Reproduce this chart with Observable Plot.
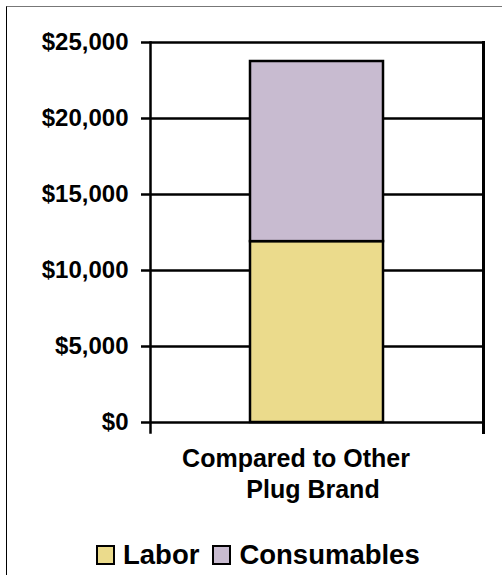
<!DOCTYPE html>
<html>
<head>
<meta charset="utf-8">
<script src="https://cdn.jsdelivr.net/npm/d3@7"></script>
<script src="https://cdn.jsdelivr.net/npm/@observablehq/plot@0.6"></script>
<style>
  html, body { margin: 0; padding: 0; background: #fff; }
  #wrap { position: relative; width: 502px; height: 575px; overflow: hidden;
          font-family: "Liberation Sans", Arial, Helvetica, sans-serif; }
  #border { position: absolute; left: 6px; top: 6px; width: 600px; height: 600px;
            border-top: 1px solid #777; border-left: 1px solid #000; pointer-events: none; }
  #chart { position: absolute; left: 0; top: 0; }
  #legend { position: absolute; left: 96px; top: 539px; display: flex; align-items: center;
            font-size: 27.5px; font-weight: bold; color: #000; }
  .sw { width: 15px; height: 16px; border: 2px solid #000; margin-right: 8px; }
  .item { display: flex; align-items: center; margin-right: 13px; }
</style>
</head>
<body>
<div id="wrap">
  <div id="chart"></div>
  <div id="border"></div>
  <div id="legend"></div>
</div>
<script>
const categories = ["Compared to Other Plug Brand"];
const categoryLines = ["Compared to Other", "Plug Brand"];
const series = ["Labor", "Consumables"];
const laborValues = [11900];
const consumablesValues = [11850];
const seriesColors = ["#EBDB8C", "#C8BBD0"];
const yTicks = [0, 5000, 10000, 15000, 20000, 25000];

const seriesValues = [laborValues, consumablesValues];
const data = series.flatMap((s, i) =>
  categories.map((c, j) => ({category: c, series: s, value: seriesValues[i][j]})));

const font = '"Liberation Sans", Arial, Helvetica, sans-serif';

const chart = Plot.plot({
  width: 502,
  height: 510,
  marginLeft: 150,
  marginRight: 19,
  marginTop: 42,
  marginBottom: 88,
  style: {fontFamily: font, fontSize: "24px", fontWeight: "bold", color: "#000", background: "transparent", overflow: "visible"},
  x: {domain: categories, padding: 0.4286, axis: null},
  y: {domain: [0, 25000], axis: null},
  color: {domain: series, range: seriesColors},
  marks: [
    Plot.ruleY(yTicks, {stroke: "#000", strokeWidth: 2.5}),
    Plot.frame({anchor: "left", insetBottom: -10, stroke: "#000", strokeWidth: 2.5}),
    Plot.frame({anchor: "right", insetBottom: -10, stroke: "#000", strokeWidth: 3}),
    Plot.barY(data, {x: "category", y: "value", fill: "series", stroke: "#000", strokeWidth: 2.5}),
    Plot.axisY({ticks: yTicks, tickFormat: d3.format("$,"), tickSize: 9, tickPadding: 13,
                strokeWidth: 2.5, fontSize: 24, fontWeight: "bold", label: null}),
    Plot.text([categoryLines[0]], {x: () => categories[0], text: d => d, frameAnchor: "bottom",
                dy: 44, dx: -21, fontSize: 25, fontWeight: "bold", fill: "#000"}),
    Plot.text([categoryLines[1]], {x: () => categories[0], text: d => d, frameAnchor: "bottom",
                dy: 75, dx: -4, fontSize: 25, fontWeight: "bold", fill: "#000"})
  ]
});
document.getElementById("chart").appendChild(chart);

const legend = document.getElementById("legend");
series.forEach((s, i) => {
  const item = document.createElement("div");
  item.className = "item";
  const sw = document.createElement("div");
  sw.className = "sw";
  sw.style.background = seriesColors[i];
  const label = document.createElement("span");
  label.textContent = s;
  item.appendChild(sw);
  item.appendChild(label);
  legend.appendChild(item);
});
</script>
</body>
</html>
